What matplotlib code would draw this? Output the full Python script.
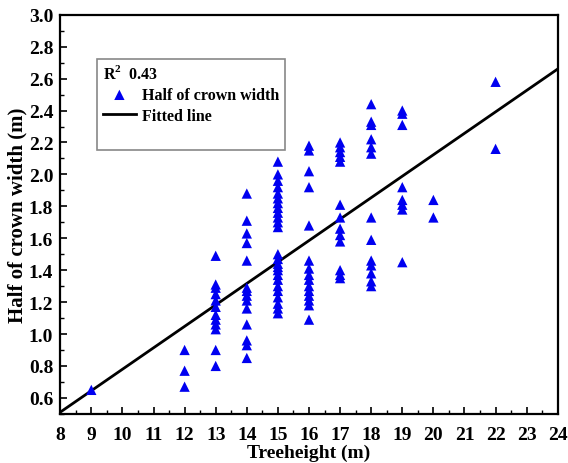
import numpy as np
import matplotlib.pyplot as plt
from matplotlib.ticker import MultipleLocator
from matplotlib.lines import Line2D

plt.rcParams['font.family'] = ['Liberation Serif', 'DejaVu Serif']
plt.rcParams['font.weight'] = 'bold'
plt.rcParams['mathtext.fontset'] = 'custom'
plt.rcParams['mathtext.rm'] = 'Liberation Serif:bold'

# tree height (m) -> half of crown width (m) for each measured tree
heights = {
    9: [0.65],
    12: [0.90, 0.77, 0.67],
    13: [1.49, 1.31, 1.29, 1.25, 1.21, 1.17, 1.12, 1.09, 1.06, 1.03, 0.90, 0.80],
    14: [1.88, 1.71, 1.63, 1.57, 1.46, 1.29, 1.27, 1.24, 1.21, 1.16, 1.06, 0.96, 0.93, 0.85],
    15: [2.08, 2.00, 1.96, 1.92, 1.88, 1.85, 1.82, 1.79, 1.76, 1.73, 1.70, 1.67,
         1.50, 1.47, 1.44, 1.42, 1.40, 1.37, 1.34, 1.30, 1.27, 1.23, 1.19, 1.16, 1.13],
    16: [2.18, 2.15, 2.02, 1.92, 1.68, 1.46, 1.41, 1.37, 1.34, 1.30, 1.27, 1.24,
         1.21, 1.18, 1.09],
    17: [2.20, 2.17, 2.14, 2.11, 2.08, 1.81, 1.73, 1.66, 1.62, 1.58, 1.40, 1.37, 1.35],
    18: [2.44, 2.33, 2.31, 2.22, 2.17, 2.13, 1.73, 1.59, 1.46, 1.43, 1.38, 1.33, 1.30],
    19: [2.40, 2.38, 2.31, 1.92, 1.84, 1.81, 1.78, 1.45],
    20: [1.84, 1.73],
    22: [2.58, 2.16],
}
x = np.concatenate([[h] * len(v) for h, v in heights.items()])
y = np.concatenate([v for v in heights.values()])

# linear fit
slope = 0.1344
intercept = -0.565
r2 = 0.43

fig = plt.figure(figsize=(5.68, 4.64), dpi=100)
ax = fig.add_axes([0.106, 0.106, 0.876, 0.860])

ax.scatter(x, y, marker='^', s=55, color='#0000f0', edgecolors='none',
           label='Half of crown width', zorder=3)
xl = np.array([8, 24])
ax.plot(xl, slope * xl + intercept, color='black', lw=2, label='Fitted line', zorder=2)

ax.set_xlim(8, 24)
ax.set_ylim(0.5, 3.0)
ax.xaxis.set_major_locator(MultipleLocator(1))
ax.xaxis.set_minor_locator(MultipleLocator(0.5))
ax.yaxis.set_minor_locator(MultipleLocator(0.1))
ax.set_yticks(np.arange(0.6, 3.01, 0.2))
ax.tick_params(which='both', direction='in', labelsize=14)
ax.tick_params(which='major', length=5, width=1.2)
ax.tick_params(which='minor', length=3, width=1)
ax.tick_params(axis='x', which='major', pad=9)
ax.tick_params(axis='y', which='major', pad=5)
for s in ax.spines.values():
    s.set_linewidth(1.6)

ax.set_xlabel('Treeheight (m)', fontsize=14, fontweight='bold', labelpad=0)
ax.set_ylabel('Half of crown width (m)', fontsize=15, fontweight='bold')
ax.yaxis.set_label_coords(-0.066, 0.5)

# blank row keeps some empty room at the bottom of the legend box
handles, labels = ax.get_legend_handles_labels()
handles.append(Line2D([], [], color='none'))
labels.append(' ')
leg = ax.legend(handles, labels, loc='upper left', bbox_to_anchor=(0.074, 0.89),
                title=f'R$^2$  {r2}', fontsize=11.5, title_fontsize=11.5, frameon=True,
                fancybox=False, edgecolor='#888888', framealpha=1, borderpad=0.35,
                handlelength=2.1, handletextpad=0.35, borderaxespad=0, labelspacing=0.3)
leg._legend_box.align = 'left'
leg.get_title().set_fontweight('bold')
leg.get_frame().set_linewidth(1.2)

fig.savefig('out.png', dpi=100)
